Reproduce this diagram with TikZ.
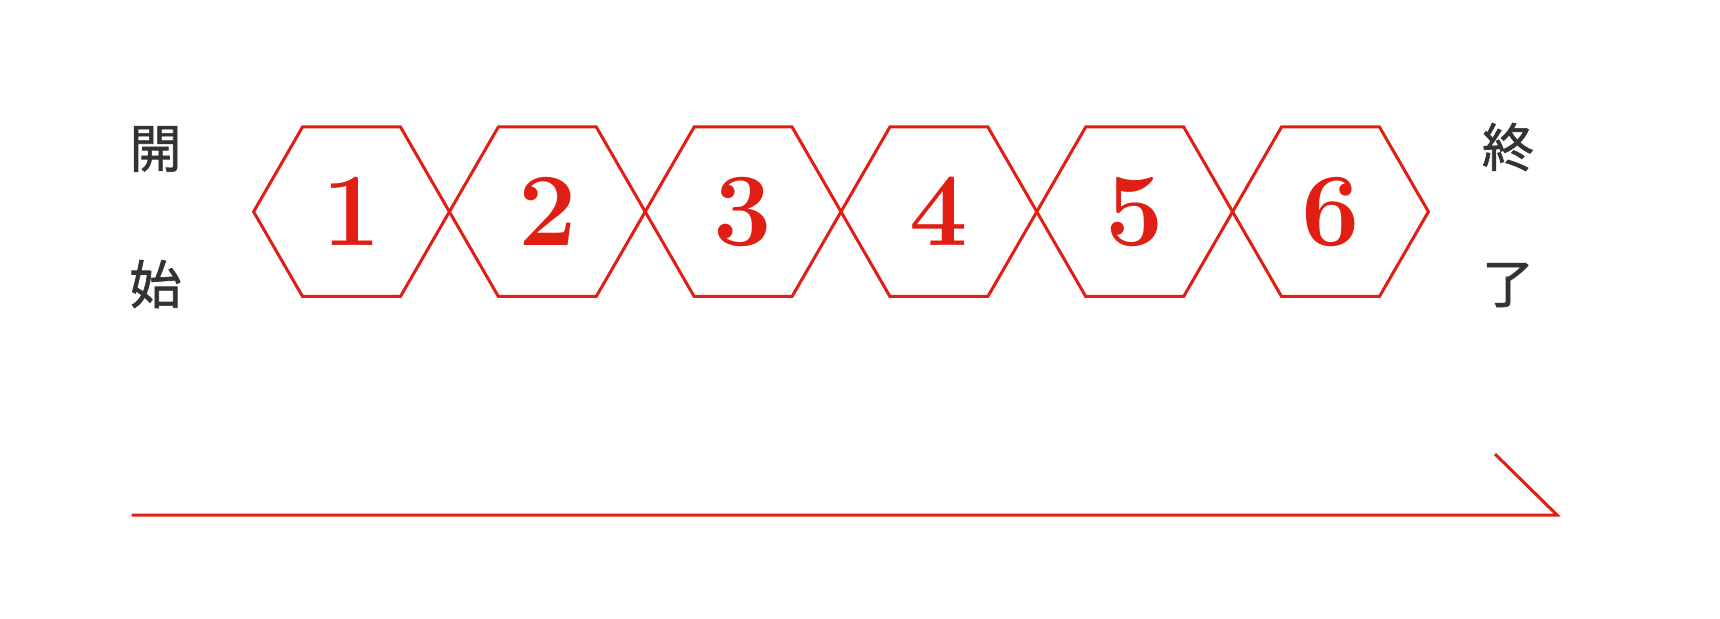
\documentclass[tikz,border=0pt]{standalone}
\usepackage{fontspec}
\newfontfamily\cjk[FakeBold=1.2]{Noto Sans CJK JP}
\usepackage{xcolor}
\usetikzlibrary{shapes.geometric}
\definecolor{stepred}{HTML}{E01E14}
\definecolor{inkgrey}{HTML}{333333}

\begin{document}
\begin{tikzpicture}[
  x=0.5pt, y=-0.5pt,
  hexa/.style={regular polygon, regular polygon sides=6, draw=stepred, line width=1.5pt,
    minimum size=97.9pt, inner sep=0pt, text=stepred, font=\fontsize{52}{52}\selectfont\bfseries},
  kanji/.style={text=inkgrey, font=\cjk\fontsize{26}{26}\selectfont, inner sep=0pt}
]
\useasboundingbox (0,0) rectangle (1720,618);
\foreach \i in {1,...,6}
  \node[hexa] (h\i) at ({351.5+195.8*(\i-1)},211.7) {\i};
\node[kanji] (kai) at (155.5,149) {開};
\node[kanji] (shi) at (155.5,284) {始};
\node[kanji] (shu) at (1508,147) {終};
\node[kanji] (ryo) at (1508,285) {了};
\coordinate (start) at (131.6,515);
\coordinate (tip) at (1557,515);
\coordinate (barb) at (1495,454);
\draw[stepred, line width=1.5pt] (start) -- (tip) -- (barb);
\end{tikzpicture}
\end{document}
